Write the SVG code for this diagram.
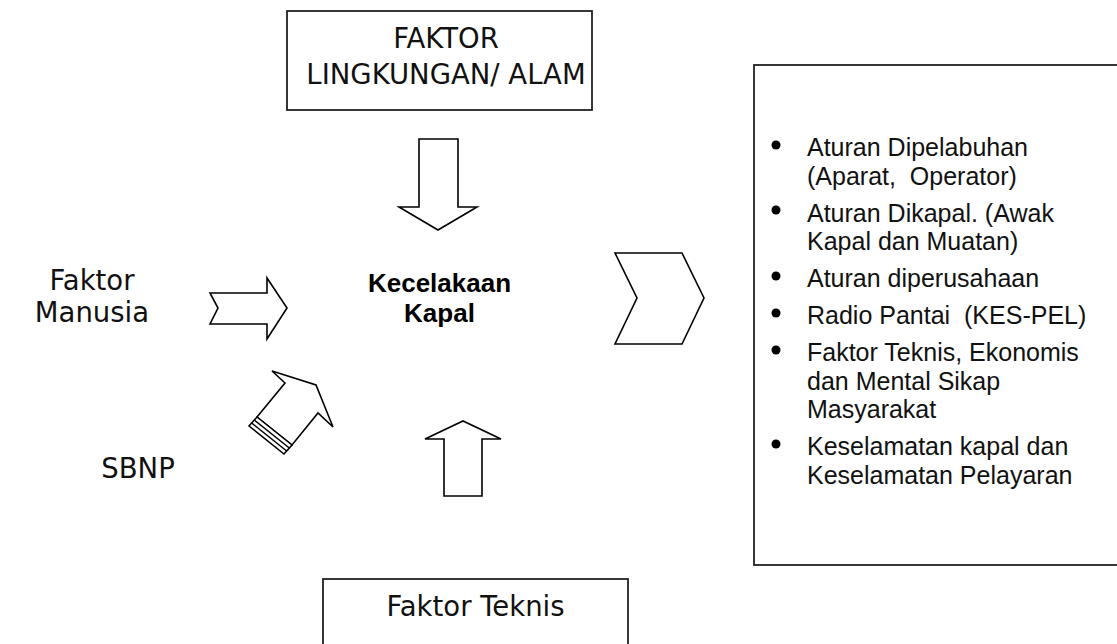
<svg xmlns="http://www.w3.org/2000/svg" width="1117" height="644" viewBox="0 0 1117 644">
<style>
.box{fill:#fff;stroke:#222;stroke-width:1.8}
.arr{fill:#fff;stroke:#000;stroke-width:1.6;stroke-linejoin:miter}
.ln{stroke:#000;stroke-width:1.5;fill:none}
.t{font-family:"DejaVu Sans",Verdana,sans-serif;font-size:27.5px;fill:#111}
.b{font-family:"Liberation Sans",Arial,sans-serif;font-size:25px;fill:#111}
.k{font-family:"Liberation Sans",Arial,sans-serif;font-size:26px;font-weight:bold;fill:#000}
</style>
<rect width="1117" height="644" fill="#fff"/>
<g id="top-box">
<rect class="box" x="287" y="11" width="305" height="99"/>
<text class="t" x="446" y="48" text-anchor="middle">FAKTOR</text>
<text class="t" x="446" y="84" text-anchor="middle">LINGKUNGAN/ ALAM</text>
</g>
<g id="bottom-box">
<rect class="box" x="323" y="579" width="305" height="80"/>
<text class="t" x="475.5" y="616" text-anchor="middle">Faktor Teknis</text>
</g>
<g id="center">
<text class="k" x="439.5" y="292" text-anchor="middle">Kecelakaan</text>
<text class="k" x="439.5" y="322" text-anchor="middle">Kapal</text>
</g>
<g id="faktor-manusia">
<text class="t" x="92" y="290" text-anchor="middle">Faktor</text>
<text class="t" x="92" y="322" text-anchor="middle">Manusia</text>
</g>
<g id="sbnp">
<text class="t" x="138" y="478" text-anchor="middle">SBNP</text>
</g>
<g id="right-box">
<rect class="box" x="754" y="65" width="380" height="500"/>
<g fill="#000">
<circle cx="776" cy="145" r="4.5"/>
<circle cx="776" cy="210" r="4.5"/>
<circle cx="776" cy="276" r="4.5"/>
<circle cx="776" cy="313" r="4.5"/>
<circle cx="776" cy="350" r="4.5"/>
<circle cx="776" cy="444" r="4.5"/>
</g>
<text class="b" x="807" y="156">Aturan Dipelabuhan</text>
<text class="b" x="807" y="184.5" xml:space="preserve">(Aparat,  Operator)</text>
<text class="b" x="807" y="221.5">Aturan Dikapal. (Awak</text>
<text class="b" x="807" y="250">Kapal dan Muatan)</text>
<text class="b" x="807" y="287">Aturan diperusahaan</text>
<text class="b" x="807" y="324" xml:space="preserve">Radio Pantai  (KES-PEL)</text>
<text class="b" x="807" y="361">Faktor Teknis, Ekonomis</text>
<text class="b" x="807" y="389.5">dan Mental Sikap</text>
<text class="b" x="807" y="418">Masyarakat</text>
<text class="b" x="807" y="455">Keselamatan kapal dan</text>
<text class="b" x="807" y="483.5">Keselamatan Pelayaran</text>
</g>
<g id="connectors">
<polygon class="arr" points="419,139 458,139 458,207 477,207 438,230 399,207 419,207"/>
<polygon class="arr" points="444,496 482,496 482,439 501,439 463,421 425,439 444,439"/>
<polygon class="arr" points="210,293 267,293 267,278 287,308 267,339 267,324 210,324 218,308"/>
<polygon class="arr" points="615,253 682,253 704,298 682,344 615,344 637,298"/>
<polygon class="arr" points="257,417 285,383 272,371 316,385 333,427 318,413 292,445"/>
<polygon class="arr" points="257,417 292,445 284,454 249,426"/>
<line class="ln" x1="254.3" y1="420" x2="289.3" y2="448"/>
<line class="ln" x1="251.7" y1="423" x2="286.7" y2="451"/>
</g>
</svg>
